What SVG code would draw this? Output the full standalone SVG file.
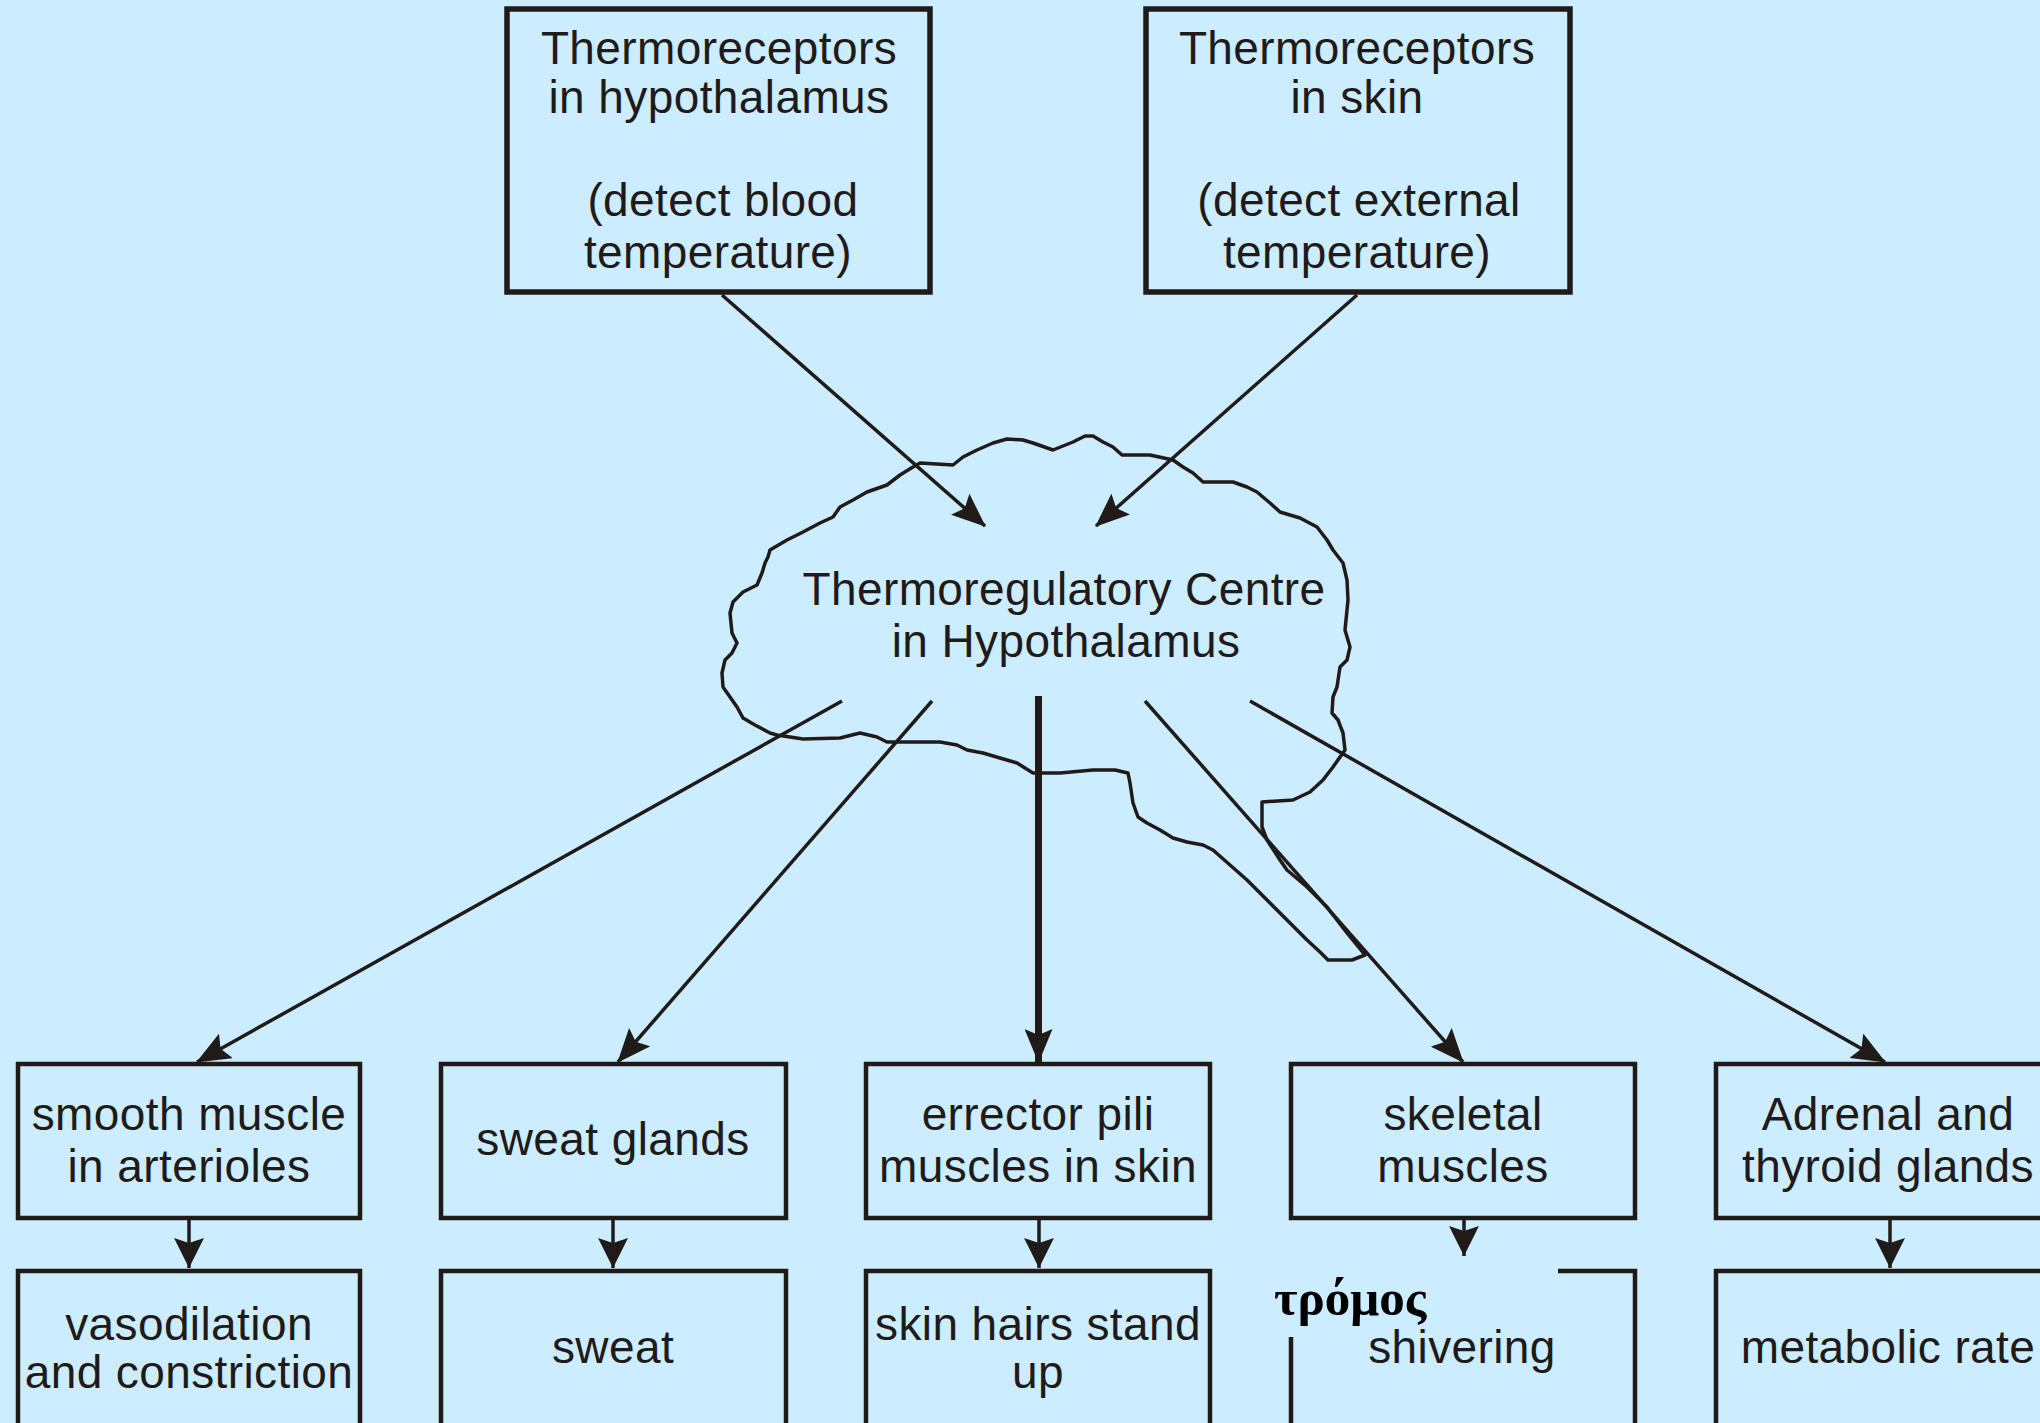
<svg xmlns="http://www.w3.org/2000/svg" width="2040" height="1423" viewBox="0 0 2040 1423">
<defs>
<style>
.bg{fill:#CCECFF}
.box{fill:none;stroke:#201b19;stroke-width:4.5}
.t{font-family:"Liberation Sans",Arial,sans-serif;font-size:46px;fill:#201b19;text-anchor:middle;letter-spacing:0.4px}
.gr{font-family:"Liberation Serif","Times New Roman",serif;font-size:51px;font-weight:bold;fill:#000}
.ln{stroke:#201b19;stroke-width:3.5;fill:none}
.thick{stroke:#201b19;stroke-width:7;fill:none}
.cloud{fill:none;stroke:#201b19;stroke-width:3.5;stroke-linejoin:round}
</style>
<marker id="ah" markerUnits="userSpaceOnUse" viewBox="0 0 34 28" refX="33" refY="14" markerWidth="34" markerHeight="28" orient="auto">
<path d="M0,0 L34,14 L0,28 L6,14 Z" fill="#201b19"/>
</marker>
<marker id="ahs" markerUnits="userSpaceOnUse" viewBox="0 0 30 30" refX="30" refY="15" markerWidth="30" markerHeight="30" orient="auto">
<path d="M0,0 L30,15 L0,30 L5,15 Z" fill="#201b19"/>
</marker>
</defs>
<rect class="bg" x="0" y="0" width="2040" height="1423"/>

<g id="node-thermo-hypothalamus">
<rect class="box" x="507" y="9" width="423" height="283" style="stroke-width:5.5"/>
<text class="t" x="719" y="64">Thermoreceptors</text>
<text class="t" x="719" y="113">in hypothalamus</text>
<text class="t" x="723" y="216">(detect blood</text>
<text class="t" x="718" y="268">temperature)</text>
</g>

<g id="node-thermo-skin">
<rect class="box" x="1146" y="9" width="424" height="283" style="stroke-width:5.5"/>
<text class="t" x="1357" y="64">Thermoreceptors</text>
<text class="t" x="1357" y="113">in skin</text>
<text class="t" x="1359" y="216">(detect external</text>
<text class="t" x="1357" y="268">temperature)</text>
</g>

<g id="node-centre">
<path class="cloud" d="M913,467 L920,463 L953,465 L963,457 L977,450 L993,443 L1007,439 L1023,440 L1033,443 L1053,450 L1063,446 L1073,442 L1085,436 L1093,436 L1103,442 L1113,447 L1122,455 L1150,455 L1173,460 L1183,467 L1193,473 L1203,482 L1233,482 L1247,487 L1257,492 L1270,503 L1280,512 L1300,518 L1317,527 L1327,540 L1333,550 L1343,563 L1347,580 L1348,600 L1345,630 L1350,647 L1347,660 L1340,667 L1337,687 L1333,697 L1332,713 L1338,720 L1343,733 L1345,750 L1333,767 L1323,780 L1310,792 L1293,800 L1262,802 L1262,827 L1267,840 L1280,860 L1287,870 L1307,887 L1327,907 L1347,933 L1365,955 L1352,960 L1328,960 L1320,952 L1307,940 L1287,920 L1267,900 L1247,880 L1230,865 L1213,850 L1203,845 L1187,842 L1173,838 L1160,830 L1147,823 L1138,817 L1133,803 L1130,783 L1128,773 L1115,770 L1093,770 L1060,773 L1033,773 L1017,763 L1000,758 L983,753 L967,750 L957,745 L940,742 L887,742 L877,737 L860,733 L840,738 L803,739 L777,735 L770,733 L755,725 L743,718 L737,707 L730,697 L723,687 L722,673 L725,660 L732,653 L737,643 L732,633 L730,613 L733,602 L743,592 L757,585 L762,573 L765,563 L768,557 L770,550 L787,540 L803,532 L820,523 L833,517 L840,507 L853,500 L867,492 L887,485 L900,475 Z"/>
<text class="t" x="1064" y="605">Thermoregulatory Centre</text>
<text class="t" x="1066" y="657">in Hypothalamus</text>
</g>

<g id="node-smooth-muscle">
<rect class="box" x="18" y="1064" width="342" height="154"/>
<text class="t" x="189" y="1130">smooth muscle</text>
<text class="t" x="189" y="1182">in arterioles</text>
</g>
<g id="node-sweat-glands">
<rect class="box" x="441" y="1064" width="345" height="154"/>
<text class="t" x="613" y="1155">sweat glands</text>
</g>
<g id="node-errector">
<rect class="box" x="866" y="1064" width="344" height="154"/>
<text class="t" x="1038" y="1130">errector pili</text>
<text class="t" x="1038" y="1182">muscles in skin</text>
</g>
<g id="node-skeletal">
<rect class="box" x="1291" y="1064" width="344" height="154"/>
<text class="t" x="1463" y="1130">skeletal</text>
<text class="t" x="1463" y="1182">muscles</text>
</g>
<g id="node-adrenal">
<rect class="box" x="1716" y="1064" width="350" height="154"/>
<text class="t" x="1888" y="1130">Adrenal and</text>
<text class="t" x="1888" y="1182">thyroid glands</text>
</g>

<g id="node-vaso">
<rect class="box" x="18" y="1271" width="342" height="180"/>
<text class="t" x="189" y="1340">vasodilation</text>
<text class="t" x="189" y="1388">and constriction</text>
</g>
<g id="node-sweat">
<rect class="box" x="441" y="1271" width="345" height="180"/>
<text class="t" x="613" y="1363">sweat</text>
</g>
<g id="node-hairs">
<rect class="box" x="866" y="1271" width="344" height="180"/>
<text class="t" x="1038" y="1340">skin hairs stand</text>
<text class="t" x="1038" y="1388">up</text>
</g>
<g id="node-shivering">
<path class="box" d="M1558,1271 L1635,1271 L1635,1440 M1291,1337 L1291,1440"/>
<text class="gr" x="1274" y="1315">τρόμος</text>
<text class="t" x="1462" y="1363">shivering</text>
</g>
<g id="node-metabolic">
<rect class="box" x="1716" y="1271" width="350" height="180"/>
<text class="t" x="1888" y="1363">metabolic rate</text>
</g>

<g id="connectors">
<line class="ln" x1="722" y1="295" x2="985" y2="526" marker-end="url(#ah)"/>
<line class="ln" x1="1357" y1="295" x2="1096" y2="526" marker-end="url(#ah)"/>
<line class="ln" x1="842" y1="701" x2="197" y2="1062" marker-end="url(#ah)"/>
<line class="ln" x1="932" y1="701" x2="618" y2="1062" marker-end="url(#ah)"/>
<line class="thick" x1="1038.5" y1="696" x2="1038.5" y2="1062" marker-end="url(#ah)"/>
<line class="ln" x1="1145" y1="701" x2="1463" y2="1062" marker-end="url(#ah)"/>
<line class="ln" x1="1250" y1="701" x2="1885" y2="1062" marker-end="url(#ah)"/>
<line class="ln" x1="189" y1="1219" x2="189" y2="1268" marker-end="url(#ahs)"/>
<line class="ln" x1="613" y1="1219" x2="613" y2="1268" marker-end="url(#ahs)"/>
<line class="ln" x1="1039" y1="1219" x2="1039" y2="1268" marker-end="url(#ahs)"/>
<line class="ln" x1="1464" y1="1219" x2="1464" y2="1256" marker-end="url(#ahs)"/>
<line class="ln" x1="1890" y1="1219" x2="1890" y2="1268" marker-end="url(#ahs)"/>
</g>
</svg>
